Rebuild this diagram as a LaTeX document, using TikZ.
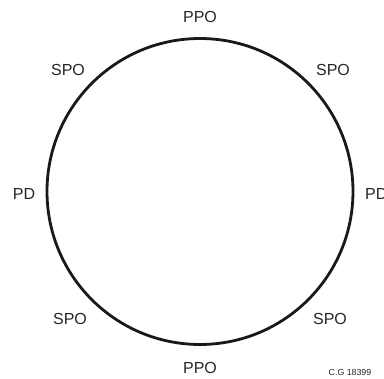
\documentclass[tikz,border=0pt]{standalone}
\usepackage{fontspec}
\setmainfont{Liberation Sans}
\begin{document}
\begin{tikzpicture}[x=1pt,y=-1pt,
  lbl/.style={font=\fontsize{16}{18}\selectfont, text=black!85, inner sep=0pt},
  small/.style={font=\fontsize{8.8}{10}\selectfont, text=black!85, inner sep=0pt}]
\useasboundingbox (0,0) rectangle (384,379);
\node[draw=black!90, line width=2.8pt, circle, minimum size=306pt, inner sep=0pt] (c) at (200,191.5) {};
\node[lbl] (ppot) at (200,17) {PPO};
\node[lbl] (spotl) at (68,70) {SPO};
\node[lbl] (spotr) at (333,70) {SPO};
\node[lbl] (pdl) at (24,194) {PD};
\node[lbl, anchor=west] (pdr) at (365,194) {PD};
\node[lbl] (spobl) at (70,319) {SPO};
\node[lbl] (spobr) at (330,319) {SPO};
\node[lbl] (ppob) at (200,368) {PPO};
\node[small] (cg) at (350,372) {C.G 18399};
\end{tikzpicture}
\end{document}
